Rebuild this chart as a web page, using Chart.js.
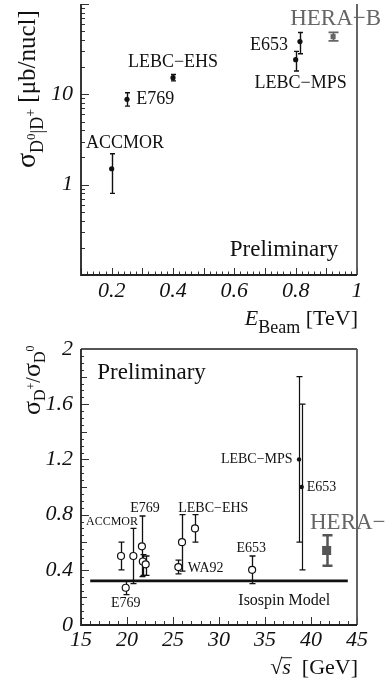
<!DOCTYPE html>
<html>
<head>
<meta charset="utf-8">
<script src="https://cdn.jsdelivr.net/npm/chart.js@4.4.1/dist/chart.umd.min.js"></script>
<style>
  body { margin: 0; background: #fff; }
  #wrap { position: relative; width: 386px; height: 688px; }
  canvas { position: absolute; left: 0; }
</style>
</head>
<body>
<div id="wrap">
  <canvas id="topChart" width="386" height="345" style="top:0"></canvas>
  <canvas id="botChart" width="386" height="358" style="top:330px"></canvas>
</div>
<script>
const serif = 'Liberation Serif';

// top panel: D0|D+ cross section against beam energy
const beamE = [0.2, 0.25, 0.4, 0.8, 0.814];
const xsec = [1.5, 8.8, 15.3, 24.2, 38.4];
const xsecLo = [0.8, 7.4, 14.1, 18.1, 28.1];
const xsecHi = [2.2, 10.4, 16.6, 29.9, 48.4];
const heraE = [0.922];
const heraXsec = [43.5];
const heraXsecLo = [39.0];
const heraXsecHi = [48.4];
const topTicksX = [0.2, 0.4, 0.6, 0.8, 1];
const topTicksY = [1, 10];

// bottom panel: D+/D0 ratio against sqrt(s)
const sqrtS = [19.35, 19.86, 20.69, 21.62, 21.72, 22.03, 25.58, 25.98, 27.39, 33.6];
const ratio = [0.5, 0.27, 0.5, 0.57, 0.46, 0.44, 0.42, 0.6, 0.7, 0.4];
const ratioLo = [0.4, 0.22, 0.3, 0.35, 0.36, 0.36, 0.37, 0.39, 0.6, 0.3];
const ratioHi = [0.6, 0.32, 0.7, 0.79, 0.51, 0.5, 0.47, 0.8, 0.8, 0.5];
const sqrtS2 = [38.7, 38.99];
const ratio2 = [1.2, 1.0];
const ratio2Lo = [0.6, 0.4];
const ratio2Hi = [1.8, 1.6];
const heraS = [41.7];
const heraRatio = [0.54];
const heraRatioLo = [0.43];
const heraRatioHi = [0.65];
const isospinS = [16, 44];
const isospinRatio = [0.32, 0.32];
const botTicksX = [15, 20, 25, 30, 35, 40, 45];
const botTicksY = [0, 0.4, 0.8, 1.2, 1.6, 2];

const pts = (xs, ys) => xs.map((x, i) => ({ x: x, y: ys[i] }));

// vertical error bars with caps, drawn under the markers
const errorBars = {
  id: 'errorBars',
  beforeDatasetsDraw(chart) {
    const { ctx, scales } = chart;
    chart.data.datasets.forEach((ds) => {
      if (!ds.errLo) return;
      ctx.save();
      ctx.strokeStyle = ds.errColor;
      ctx.lineWidth = ds.errWidth;
      ds.data.forEach((p, i) => {
        const px = Math.round(scales.x.getPixelForValue(p.x)) + 0.5;
        const lo = scales.y.getPixelForValue(ds.errLo[i]);
        const hi = scales.y.getPixelForValue(ds.errHi[i]);
        const c = ds.capHalf;
        ctx.beginPath();
        ctx.moveTo(px, lo); ctx.lineTo(px, hi);
        ctx.moveTo(px - c, lo); ctx.lineTo(px + c, lo);
        ctx.moveTo(px - c, hi); ctx.lineTo(px + c, hi);
        ctx.stroke();
      });
      ctx.restore();
    });
  }
};

function tickVals(min, max, step) {
  const out = [];
  for (let k = Math.ceil(min / step - 1e-9); k * step <= max + 1e-9; k++) out.push(k * step);
  return out;
}

// box round the plot and inward tick marks (ROOT look)
function makeFrame(cfg) {
  return {
    id: 'frame',
    afterDatasetsDraw(chart) {
      const { ctx, chartArea: a, scales } = chart;
      ctx.save();
      ctx.strokeStyle = '#333';
      ctx.lineWidth = 1;
      ctx.beginPath();
      cfg.xTicks.forEach(([step, len]) => {
        tickVals(scales.x.min, scales.x.max, step).forEach((v) => {
          const px = Math.round(scales.x.getPixelForValue(v)) + 0.5;
          ctx.moveTo(px, a.bottom); ctx.lineTo(px, a.bottom - len);
        });
      });
      if (cfg.logY) {
        for (let d = -1; d <= 2; d++) {
          for (let m = 1; m <= 9; m++) {
            const v = m * Math.pow(10, d);
            if (v < scales.y.min * 0.999 || v > scales.y.max * 1.001) continue;
            const py = Math.round(scales.y.getPixelForValue(v)) + 0.5;
            ctx.moveTo(a.left, py); ctx.lineTo(a.left + (m === 1 ? 8 : 4), py);
          }
        }
      } else {
        cfg.yTicks.forEach(([step, len]) => {
          tickVals(scales.y.min, scales.y.max, step).forEach((v) => {
            const py = Math.round(scales.y.getPixelForValue(v)) + 0.5;
            ctx.moveTo(a.left, py); ctx.lineTo(a.left + len, py);
          });
        });
      }
      ctx.stroke();

      ctx.strokeStyle = '#555';
      ctx.lineWidth = 1.8;
      ctx.beginPath();
      if (cfg.boxTop) {
        ctx.moveTo(a.left, a.top); ctx.lineTo(a.right, a.top);
      }
      ctx.moveTo(a.right, a.top); ctx.lineTo(a.right, a.bottom);
      ctx.stroke();
      ctx.strokeStyle = '#222';
      ctx.beginPath();
      ctx.moveTo(a.left, a.top); ctx.lineTo(a.left, a.bottom); ctx.lineTo(a.right, a.bottom);
      ctx.stroke();
      ctx.restore();
    }
  };
}

// experiment names, placed in data units
function makeNotes(notes) {
  return {
    id: 'notes',
    afterDatasetsDraw(chart) {
      const { ctx, scales } = chart;
      ctx.save();
      ctx.textBaseline = 'middle';
      notes.forEach((n) => {
        ctx.font = n.size + 'px "' + serif + '"';
        ctx.fillStyle = n.color || '#111';
        ctx.textAlign = n.align;
        ctx.fillText(n.text, scales.x.getPixelForValue(n.x), scales.y.getPixelForValue(n.y));
      });
      ctx.restore();
    }
  };
}

// axis titles with sub/superscripts
function makeTitles(items) {
  return {
    id: 'titles',
    afterDraw(chart) {
      const ctx = chart.ctx;
      items.forEach((it) => {
        ctx.save();
        ctx.translate(it.x, it.y);
        if (it.rotate) ctx.rotate(it.rotate);
        const fontOf = (p) => (p.italic ? 'italic ' : '') + p.size + 'px "' + serif + '"';
        let w = 0;
        it.parts.forEach((p) => { ctx.font = fontOf(p); w += ctx.measureText(p.t).width; });
        let cx = it.align === 'right' ? -w : 0;
        ctx.textAlign = 'left';
        ctx.textBaseline = 'alphabetic';
        ctx.fillStyle = '#111';
        ctx.strokeStyle = '#111';
        it.parts.forEach((p) => {
          ctx.font = fontOf(p);
          const pw = ctx.measureText(p.t).width;
          ctx.fillText(p.t, cx, p.dy || 0);
          if (p.over) {
            ctx.lineWidth = 1;
            ctx.beginPath();
            ctx.moveTo(cx - 1, -p.size * 0.74);
            ctx.lineTo(cx + pw + 1, -p.size * 0.74);
            ctx.stroke();
          }
          cx += pw;
        });
        ctx.restore();
      });
    }
  };
}

const tickFont = { family: '"Liberation Serif", serif', size: 22, style: 'italic' };

function axis(type, min, max, values, extra) {
  return Object.assign({
    type: type,
    min: min,
    max: max,
    grid: { display: false, drawTicks: false },
    border: { display: false },
    afterBuildTicks: (s) => { s.ticks = values.map((v) => ({ value: v })); }
  }, extra);
}

new Chart(document.getElementById('topChart'), {
  type: 'scatter',
  data: {
    datasets: [
      { data: pts(beamE, xsec), errLo: xsecLo, errHi: xsecHi,
        errColor: '#111', errWidth: 1.4, capHalf: 2.5,
        pointRadius: 2.6, backgroundColor: '#111', borderColor: '#111', borderWidth: 0 },
      { data: pts(heraE, heraXsec), errLo: heraXsecLo, errHi: heraXsecHi,
        errColor: '#666', errWidth: 1.8, capHalf: 5,
        pointStyle: 'rect', pointRadius: 3.6, backgroundColor: '#666', borderColor: '#666', borderWidth: 0 }
    ]
  },
  options: {
    responsive: false,
    animation: false,
    events: [],
    layout: { padding: { left: 0, right: 29, top: 0, bottom: 0 } },
    plugins: { legend: { display: false }, tooltip: { enabled: false } },
    scales: {
      x: axis('linear', 0.1, 1, topTicksX, {
        afterFit: (s) => { s.height = 70; s.paddingLeft = 0; s.paddingRight = 0; },
        ticks: { color: '#111', font: tickFont, autoSkip: false, maxRotation: 0, padding: 3,
          callback: (v) => String(Math.round(v * 100) / 100) }
      }),
      y: axis('logarithmic', 0.1, 100, topTicksY, {
        afterFit: (s) => { s.width = 81; s.paddingTop = 0; s.paddingBottom = 0; },
        ticks: { color: '#111', font: tickFont, autoSkip: false, padding: 8,
          callback: (v) => String(v) }
      })
    }
  },
  plugins: [
    errorBars,
    makeFrame({ logY: true, boxTop: false, xTicks: [[0.02, 3.5], [0.1, 7]] }),
    makeNotes([
      { text: 'HERA\u2212B', x: 0.782, y: 68, size: 23, align: 'left', color: '#666' },
      { text: 'E653', x: 0.775, y: 34.9, size: 18, align: 'right' },
      { text: 'LEBC\u2212EHS', x: 0.4, y: 22.8, size: 18, align: 'center' },
      { text: 'LEBC\u2212MPS', x: 0.816, y: 13.2, size: 18, align: 'center' },
      { text: 'E769', x: 0.28, y: 8.8, size: 18, align: 'left' },
      { text: 'ACCMOR', x: 0.116, y: 2.86, size: 18, align: 'left' },
      { text: 'Preliminary', x: 0.585, y: 0.187, size: 23, align: 'left' }
    ]),
    makeTitles([
      { x: 358, y: 325, align: 'right', parts: [
        { t: 'E', size: 22, italic: true },
        { t: 'Beam', size: 18, dy: 8 },
        { t: ' [TeV]', size: 22 }
      ] },
      { x: 35, y: 168, align: 'left', rotate: -Math.PI / 2, parts: [
        { t: '\u03c3', size: 28 },
        { t: 'D', size: 18, dy: 8 },
        { t: '0', size: 13, dy: 0 },
        { t: '|', size: 18, dy: 8 },
        { t: 'D', size: 18, dy: 8 },
        { t: '+', size: 14, dy: 0 },
        { t: ' [\u03bcb/nucl]', size: 25 }
      ] }
    ])
  ]
});

new Chart(document.getElementById('botChart'), {
  type: 'scatter',
  data: {
    datasets: [
      { data: pts(sqrtS, ratio), errLo: ratioLo, errHi: ratioHi,
        errColor: '#111', errWidth: 1.3, capHalf: 3,
        pointRadius: 3.5, backgroundColor: '#fff', borderColor: '#111', borderWidth: 1.2 },
      { data: pts(sqrtS2, ratio2), errLo: ratio2Lo, errHi: ratio2Hi,
        errColor: '#111', errWidth: 1.2, capHalf: 3,
        pointRadius: 2.2, backgroundColor: '#111', borderColor: '#111', borderWidth: 0 },
      { data: pts(heraS, heraRatio), errLo: heraRatioLo, errHi: heraRatioHi,
        errColor: '#555', errWidth: 2.5, capHalf: 5,
        pointStyle: 'rect', pointRadius: 6.4, backgroundColor: '#555', borderColor: '#555', borderWidth: 0 },
      { data: pts(isospinS, isospinRatio), showLine: true, pointRadius: 0,
        borderColor: '#111', borderWidth: 2.6 }
    ]
  },
  options: {
    responsive: false,
    animation: false,
    events: [],
    layout: { padding: { left: 0, right: 29, top: 19, bottom: 0 } },
    plugins: { legend: { display: false }, tooltip: { enabled: false } },
    scales: {
      x: axis('linear', 15, 45, botTicksX, {
        afterFit: (s) => { s.height = 63; s.paddingLeft = 0; s.paddingRight = 0; },
        ticks: { color: '#111', font: tickFont, autoSkip: false, maxRotation: 0, padding: 2,
          callback: (v) => String(v) }
      }),
      y: axis('linear', 0, 2, botTicksY, {
        afterFit: (s) => { s.width = 81; s.paddingTop = 0; s.paddingBottom = 0; },
        ticks: { color: '#111', font: tickFont, autoSkip: false, padding: 8,
          callback: (v) => String(Math.round(v * 10) / 10) }
      })
    }
  },
  plugins: [
    errorBars,
    makeFrame({ logY: false, boxTop: true, xTicks: [[1, 4], [5, 8]], yTicks: [[0.05, 3], [0.2, 6], [0.4, 8]] }),
    makeNotes([
      { text: 'Preliminary', x: 16.77, y: 1.83, size: 23, align: 'left' },
      { text: 'LEBC\u2212MPS', x: 38.0, y: 1.198, size: 14, align: 'right' },
      { text: 'E653', x: 39.53, y: 0.997, size: 14, align: 'left' },
      { text: 'E769', x: 21.96, y: 0.848, size: 14, align: 'center' },
      { text: 'ACCMOR', x: 15.54, y: 0.744, size: 12, align: 'left' },
      { text: 'LEBC\u2212EHS', x: 29.38, y: 0.848, size: 14, align: 'center' },
      { text: 'HERA\u2212B', x: 39.89, y: 0.739, size: 23, align: 'left', color: '#666' },
      { text: 'E653', x: 33.5, y: 0.558, size: 14, align: 'center' },
      { text: 'WA92', x: 26.6, y: 0.413, size: 14, align: 'left' },
      { text: 'E769', x: 19.87, y: 0.154, size: 14, align: 'center' },
      { text: 'Isospin Model', x: 32.1, y: 0.178, size: 16, align: 'left' }
    ]),
    makeTitles([
      { x: 358, y: 344, align: 'right', parts: [
        { t: '\u221a', size: 22 },
        { t: 's', size: 22, italic: true, over: true },
        { t: '  [GeV]', size: 22 }
      ] },
      { x: 40, y: 85, align: 'left', rotate: -Math.PI / 2, parts: [
        { t: '\u03c3', size: 26 },
        { t: 'D', size: 16, dy: 5 },
        { t: '+', size: 12, dy: -5 },
        { t: '/', size: 20 },
        { t: '\u03c3', size: 26 },
        { t: 'D', size: 16, dy: 5 },
        { t: '0', size: 12, dy: -6 }
      ] }
    ])
  ]
});
</script>
</body>
</html>
